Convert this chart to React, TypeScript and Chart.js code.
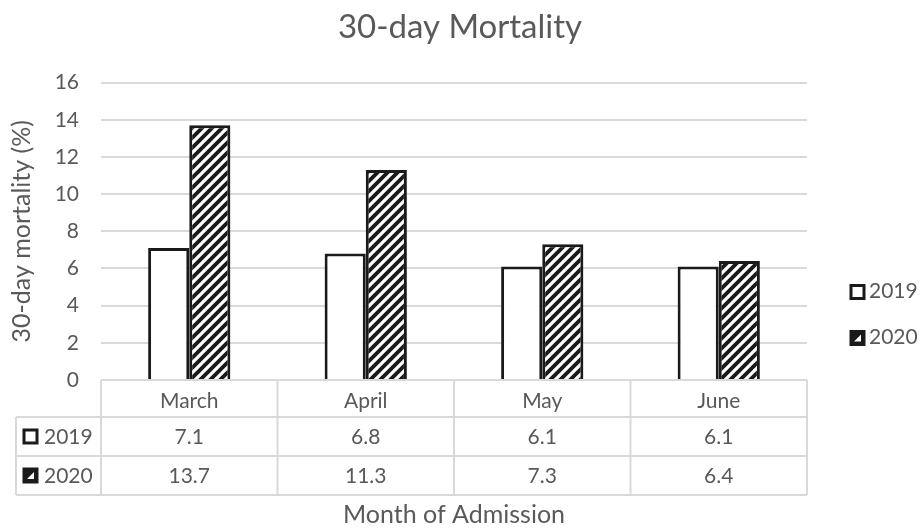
import React, { useEffect, useRef } from 'react';
import { Chart, registerables } from 'chart.js';

Chart.register(...registerables);

const categories = ['March', 'April', 'May', 'June'];
const series2019 = [7.1, 6.8, 6.1, 6.1];
const series2020 = [13.7, 11.3, 7.3, 6.4];
const seriesLabels = ['2019', '2020'];
const chartTitle = '30-day Mortality';
const yAxisTitle = '30-day mortality (%)';
const xAxisTitle = 'Month of Admission';
const yMin = 0;
const yMax = 16;
const yStep = 2;

const FONT = 'Lato, "Open Sans", sans-serif';
const TEXT = '#595959';
const GRID = '#d9d9d9';
const INK = '#1a1a1a';

function makeHatch(): CanvasPattern | string {
  const c = document.createElement('canvas');
  const s = 10;
  c.width = s;
  c.height = s;
  const g = c.getContext('2d');
  if (!g) return '#888';
  g.fillStyle = '#ffffff';
  g.fillRect(0, 0, s, s);
  g.strokeStyle = INK;
  g.lineWidth = 3.8;
  g.beginPath();
  g.moveTo(-1, s + 1);
  g.lineTo(s + 1, -1);
  g.moveTo(-s / 2 - 1, s / 2 + 1);
  g.lineTo(s / 2 + 1, -s / 2 - 1);
  g.moveTo(s / 2 - 1, s * 1.5 + 1);
  g.lineTo(s * 1.5 + 1, s / 2 - 1);
  g.stroke();
  return g.createPattern(c, 'repeat') || '#888';
}

export default function App() {
  const ref = useRef<HTMLCanvasElement | null>(null);

  useEffect(() => {
    if (!ref.current) return;
    const hatch = makeHatch();
    const fills: (string | CanvasPattern)[] = ['#ffffff', hatch];
    const seriesData = [series2019, series2020];

    const drawKey = (ctx: CanvasRenderingContext2D, x: number, cy: number, i: number) => {
      const size = 13;
      ctx.save();
      if (i === 0) {
        ctx.fillStyle = '#ffffff';
        ctx.fillRect(x, cy - size / 2, size, size);
      } else {
        ctx.fillStyle = INK;
        ctx.fillRect(x, cy - size / 2, size, size);
        ctx.fillStyle = '#ffffff';
        ctx.beginPath();
        ctx.moveTo(x + size - 3, cy - size / 2 + 3);
        ctx.lineTo(x + size - 3, cy + size / 2 - 3);
        ctx.lineTo(x + 3, cy + size / 2 - 3);
        ctx.closePath();
        ctx.fill();
      }
      ctx.strokeStyle = INK;
      ctx.lineWidth = 3;
      ctx.strokeRect(x, cy - size / 2, size, size);
      ctx.restore();
    };

    const tablePlugin = {
      id: 'dataTable',
      afterDraw(chart: any) {
        const { ctx, chartArea } = chart;
        const x = chart.scales.x;
        const left = chartArea.left;
        const right = chartArea.right;
        const top = chartArea.bottom;
        const headerH = 37;
        const rowH = 39;
        const tableLeft = 16;
        const n = categories.length;
        const catW = (right - left) / n;
        const bottom = top + headerH + rowH * seriesLabels.length;

        ctx.save();
        ctx.strokeStyle = GRID;
        ctx.lineWidth = 2;
        ctx.beginPath();
        ctx.moveTo(left, top);
        ctx.lineTo(right, top);
        for (let r = 0; r <= seriesLabels.length; r++) {
          const y = top + headerH + r * rowH;
          ctx.moveTo(tableLeft, y);
          ctx.lineTo(right, y);
        }
        for (let i = 0; i <= n; i++) {
          const xb = i < n ? x.getPixelForValue(i) - catW / 2 : x.getPixelForValue(n - 1) + catW / 2;
          ctx.moveTo(xb, top);
          ctx.lineTo(xb, bottom);
        }
        ctx.moveTo(tableLeft, top + headerH);
        ctx.lineTo(tableLeft, bottom);
        ctx.stroke();

        ctx.fillStyle = TEXT;
        ctx.font = `21px ${FONT}`;
        ctx.textBaseline = 'middle';
        for (let r = 0; r < seriesLabels.length; r++) {
          const cy = top + headerH + r * rowH + rowH / 2;
          ctx.textAlign = 'center';
          ctx.fillStyle = TEXT;
          for (let i = 0; i < n; i++) {
            ctx.fillText(String(seriesData[r][i]), x.getPixelForValue(i), cy + 1);
          }
          drawKey(ctx, 24, cy, r);
          ctx.fillStyle = TEXT;
          ctx.textAlign = 'left';
          ctx.fillText(seriesLabels[r], 44, cy + 1);
        }

        // legend on the right
        const legendY = [291, 337];
        for (let r = 0; r < seriesLabels.length; r++) {
          drawKey(ctx, 851, legendY[r] + 1, r);
          ctx.fillStyle = TEXT;
          ctx.textAlign = 'left';
          ctx.fillText(seriesLabels[r], 869, legendY[r]);
        }
        ctx.restore();
      },
    };

    const chart = new Chart(ref.current, {
      type: 'bar',
      data: {
        labels: categories,
        datasets: [
          {
            label: seriesLabels[0],
            data: series2019,
            backgroundColor: fills[0] as any,
            borderColor: INK,
            borderWidth: 3,
          },
          {
            label: seriesLabels[1],
            data: series2020,
            backgroundColor: fills[1] as any,
            borderColor: INK,
            borderWidth: 3,
          },
        ],
      },
      options: {
        responsive: false,
        animation: false,
        devicePixelRatio: 1,
        layout: { padding: 0 },
        datasets: {
          bar: { categoryPercentage: 0.466, barPercentage: 1 },
        },
        plugins: {
          legend: { display: false },
          tooltip: { enabled: false },
          title: {
            display: true,
            text: chartTitle,
            color: TEXT,
            font: { family: FONT, size: 33, weight: 'normal' },
            padding: { top: 8, bottom: 35 },
          },
        },
        scales: {
          x: {
            grid: { display: false, drawTicks: false },
            border: { display: false },
            ticks: {
              color: TEXT,
              font: { family: FONT, size: 21 },
              padding: 9,
            },
            title: {
              display: true,
              text: xAxisTitle,
              color: TEXT,
              font: { family: FONT, size: 25 },
              padding: { top: 0, bottom: -2 },
            },
            afterFit: (s: any) => {
              s.height = 148;
            },
          },
          y: {
            min: yMin,
            max: yMax,
            ticks: {
              stepSize: yStep,
              color: TEXT,
              font: { family: FONT, size: 21 },
              padding: 22,
            },
            grid: { color: GRID, lineWidth: 2, drawTicks: false },
            border: { display: false },
            title: {
              display: true,
              text: yAxisTitle,
              color: TEXT,
              font: { family: FONT, size: 25 },
              padding: { top: 7, bottom: 0 },
            },
            afterFit: (s: any) => {
              s.width = 101;
            },
          },
          side: {
            type: 'linear',
            position: 'right',
            display: true,
            grid: { display: false, drawTicks: false },
            border: { display: false },
            ticks: { display: false },
            afterFit: (s: any) => {
              s.width = 113;
            },
          },
        },
      },
      plugins: [tablePlugin],
    });
    return () => chart.destroy();
  }, []);

  return (
    <div style={{ position: 'absolute', left: 0, top: 0, width: 920, height: 528, background: '#fff' }}>
      <canvas ref={ref} width={920} height={528} />
    </div>
  );
}
